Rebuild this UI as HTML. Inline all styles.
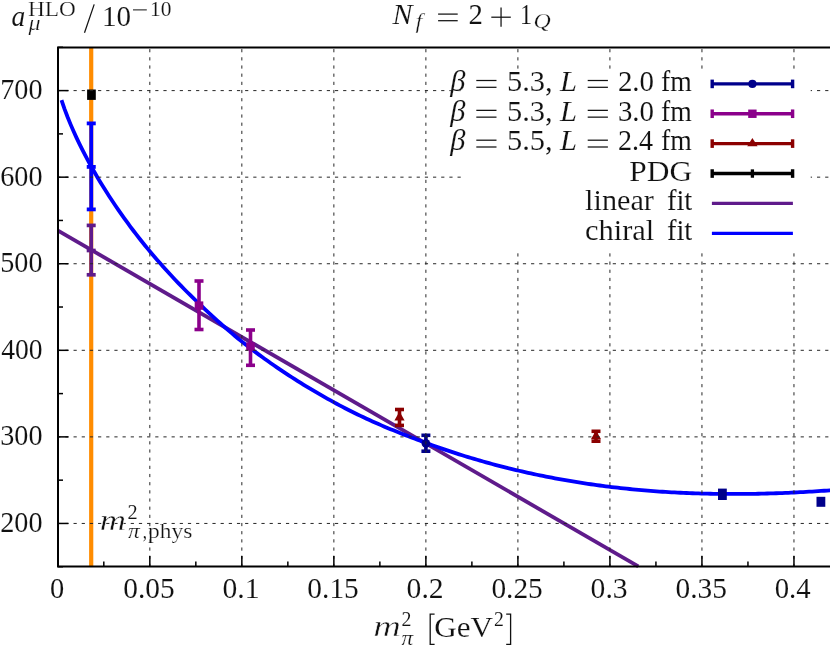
<!DOCTYPE html>
<html><head><meta charset="utf-8"><title>plot</title>
<style>
html,body{margin:0;padding:0;background:#fff;}
body{width:830px;height:645px;position:relative;overflow:hidden;font-family:"Liberation Serif",serif;}
svg{position:absolute;left:0;top:0;display:block;will-change:transform;}
</style></head><body>
<svg width="830" height="645" viewBox="0 0 830 645" style="position:absolute;left:0;top:0">
<path d="M91.2,47.40 V566.40" stroke="#ff8c00" stroke-width="4.2" fill="none"/>
<path d="M58.00,230.65 L638.3,566.40" stroke="#5f1b8b" stroke-width="3.8" fill="none"/>
<path d="M61.50,100.06 L64.49,108.86 L67.48,116.78 L70.47,124.12 L73.46,131.03 L76.45,137.59 L79.44,143.87 L82.43,149.89 L85.42,155.70 L88.41,161.32 L91.40,166.77 L94.39,172.05 L97.38,177.20 L100.37,182.20 L103.36,187.09 L106.36,191.86 L109.35,196.51 L112.34,201.07 L115.33,205.53 L118.32,209.90 L121.31,214.18 L124.30,218.38 L127.29,222.49 L130.28,226.54 L133.27,230.51 L136.26,234.40 L139.25,238.24 L142.24,242.00 L145.23,245.71 L148.22,249.35 L151.21,252.94 L154.20,256.47 L157.19,259.94 L160.18,263.36 L163.17,266.73 L166.16,270.05 L169.15,273.32 L172.14,276.54 L175.13,279.72 L178.12,282.85 L181.11,285.94 L184.10,288.98 L187.09,291.98 L190.08,294.95 L193.08,297.87 L196.07,300.75 L199.06,303.61 L202.05,306.45 L205.04,309.26 L208.03,312.05 L211.02,314.83 L214.01,317.57 L217.00,320.29 L219.99,322.98 L222.98,325.64 L225.97,328.27 L228.96,330.87 L231.95,333.42 L234.94,335.94 L237.93,338.42 L240.92,340.85 L243.91,343.24 L246.90,345.59 L249.89,347.89 L252.88,350.15 L255.87,352.39 L258.86,354.60 L261.85,356.79 L264.84,358.94 L267.83,361.07 L270.82,363.18 L273.81,365.26 L276.81,367.32 L279.80,369.35 L282.79,371.36 L285.78,373.34 L288.77,375.31 L291.76,377.24 L294.75,379.16 L297.74,381.05 L300.73,382.92 L303.72,384.77 L306.71,386.59 L309.70,388.40 L312.69,390.18 L315.68,391.95 L318.67,393.69 L321.66,395.41 L324.65,397.11 L327.64,398.79 L330.63,400.45 L333.62,402.09 L336.61,403.71 L339.60,405.31 L342.59,406.90 L345.58,408.46 L348.57,410.00 L351.56,411.52 L354.55,413.00 L357.54,414.47 L360.53,415.91 L363.53,417.33 L366.52,418.72 L369.51,420.09 L372.50,421.44 L375.49,422.77 L378.48,424.08 L381.47,425.37 L384.46,426.64 L387.45,427.90 L390.44,429.14 L393.43,430.36 L396.42,431.57 L399.41,432.76 L402.40,433.94 L405.39,435.11 L408.38,436.27 L411.37,437.42 L414.36,438.55 L417.35,439.68 L420.34,440.80 L423.33,441.91 L426.32,443.01 L429.31,444.11 L432.30,445.19 L435.29,446.27 L438.28,447.32 L441.27,448.36 L444.26,449.39 L447.25,450.41 L450.25,451.41 L453.24,452.39 L456.23,453.37 L459.22,454.32 L462.21,455.27 L465.20,456.20 L468.19,457.12 L471.18,458.02 L474.17,458.92 L477.16,459.79 L480.15,460.66 L483.14,461.51 L486.13,462.35 L489.12,463.18 L492.11,463.99 L495.10,464.80 L498.09,465.59 L501.08,466.36 L504.07,467.13 L507.06,467.88 L510.05,468.62 L513.04,469.35 L516.03,470.06 L519.02,470.77 L522.01,471.46 L525.00,472.14 L527.99,472.81 L530.98,473.47 L533.97,474.11 L536.97,474.74 L539.96,475.37 L542.95,475.98 L545.94,476.58 L548.93,477.16 L551.92,477.74 L554.91,478.31 L557.90,478.86 L560.89,479.41 L563.88,479.94 L566.87,480.46 L569.86,480.97 L572.85,481.47 L575.84,481.96 L578.83,482.44 L581.82,482.91 L584.81,483.37 L587.80,483.81 L590.79,484.25 L593.78,484.68 L596.77,485.09 L599.76,485.50 L602.75,485.89 L605.74,486.28 L608.73,486.65 L611.72,487.02 L614.71,487.38 L617.70,487.72 L620.69,488.06 L623.69,488.38 L626.68,488.70 L629.67,489.00 L632.66,489.30 L635.65,489.59 L638.64,489.86 L641.63,490.13 L644.62,490.39 L647.61,490.64 L650.60,490.88 L653.59,491.11 L656.58,491.33 L659.57,491.54 L662.56,491.74 L665.55,491.93 L668.54,492.12 L671.53,492.29 L674.52,492.45 L677.51,492.61 L680.50,492.76 L683.49,492.90 L686.48,493.02 L689.47,493.15 L692.46,493.26 L695.45,493.36 L698.44,493.45 L701.43,493.54 L704.42,493.62 L707.42,493.69 L710.41,493.75 L713.40,493.80 L716.39,493.85 L719.38,493.89 L722.37,493.92 L725.36,493.94 L728.35,493.96 L731.34,493.97 L734.33,493.97 L737.32,493.97 L740.31,493.95 L743.30,493.93 L746.29,493.91 L749.28,493.87 L752.27,493.83 L755.26,493.78 L758.25,493.73 L761.24,493.66 L764.23,493.59 L767.22,493.52 L770.21,493.43 L773.20,493.34 L776.19,493.24 L779.18,493.14 L782.17,493.03 L785.16,492.91 L788.15,492.78 L791.14,492.65 L794.14,492.51 L797.13,492.37 L800.12,492.21 L803.11,492.05 L806.10,491.89 L809.09,491.72 L812.08,491.54 L815.07,491.35 L818.06,491.16 L821.05,490.96 L824.04,490.76 L827.03,490.54 L830.02,490.33 L833.01,490.10 L836.00,489.87" stroke="#0000ff" stroke-width="3.8" fill="none" stroke-linejoin="round"/>
<g stroke="#0000ff" stroke-width="3.8" fill="none"><path d="M91.25,123.4 V209.4"/><path d="M86.75,123.4 H95.75"/><path d="M86.75,209.4 H95.75"/><path d="M86.75,166.9 H95.75"/></g>
<g stroke="#5f1b8b" stroke-width="3.7" fill="none"><path d="M91.2,225.4 V274.8"/><path d="M86.7,225.4 H95.7"/><path d="M86.7,274.8 H95.7"/><path d="M86.7,250.5 H95.7"/></g>
<rect x="87.1" y="89.5" width="8.7" height="10.4" fill="#000"/>
<g stroke="#8b008b" stroke-width="3.6" fill="none"><path d="M199,281.0 V329.5"/><path d="M194.5,281.0 H203.5"/><path d="M194.5,329.5 H203.5"/></g>
<rect x="194.7" y="301.40000000000003" width="8.6" height="8.4" fill="#8b008b"/>
<g stroke="#8b008b" stroke-width="3.6" fill="none"><path d="M250.5,330.0 V365.3"/><path d="M246.0,330.0 H255.0"/><path d="M246.0,365.3 H255.0"/></g>
<rect x="246.2" y="342.3" width="8.6" height="8.4" fill="#8b008b"/>
<g stroke="#8b0000" stroke-width="3.6" fill="none"><path d="M399.5,409.5 V425.4"/><path d="M395.0,409.5 H404.0"/><path d="M395.0,425.4 H404.0"/></g>
<path d="M399.5,411.6 L404.6,420.4 H394.4 Z" fill="#8b0000"/>
<g stroke="#8b0000" stroke-width="3.6" fill="none"><path d="M596,431.3 V441.2"/><path d="M591.5,431.3 H600.5"/><path d="M591.5,441.2 H600.5"/></g>
<path d="M596,430.6 L601.1,439.2 H590.9 Z" fill="#8b0000"/>
<g stroke="#00008b" stroke-width="3.6" fill="none"><path d="M425.9,435.3 V451.2"/><path d="M421.4,435.3 H430.4"/><path d="M421.4,451.2 H430.4"/></g>
<circle cx="425.9" cy="443.4" r="4.3" fill="#00008b"/>
<rect x="718.0" y="488.6" width="8.8" height="11.4" fill="#00008b"/>
<rect x="816.5" y="496.8" width="8.8" height="10" fill="#00008b"/>
<g stroke="#262626" stroke-width="1.0" stroke-dasharray="3.2 4.97" fill="none">
<path d="M57.20,523.45 H836"/>
<path d="M57.20,436.88 H836"/>
<path d="M57.20,350.31 H836"/>
<path d="M57.20,263.74 H836"/>
<path d="M57.20,177.17 H836"/>
<path d="M57.20,90.60 H836"/>
<path d="M149.82,567.00 V47.40"/>
<path d="M241.84,567.00 V47.40"/>
<path d="M333.86,567.00 V47.40"/>
<path d="M425.88,567.00 V47.40"/>
<path d="M517.90,567.00 V47.40"/>
<path d="M609.92,567.00 V47.40"/>
<path d="M701.94,567.00 V47.40"/>
<path d="M793.96,567.00 V47.40"/>
</g>
<rect x="461.5" y="69" width="349.2" height="184" fill="#fff"/>
<g stroke="#00008b" stroke-width="3.4" fill="none"><path d="M711.9,83.9 H792.9"/><path d="M712.1999999999999,79.60000000000001 V88.2"/><path d="M792.6,79.60000000000001 V88.2"/></g>
<circle cx="752.4" cy="83.9" r="4.1" fill="#00008b"/>
<g stroke="#8b008b" stroke-width="3.4" fill="none"><path d="M711.9,113.75 H792.9"/><path d="M712.1999999999999,109.45 V118.05"/><path d="M792.6,109.45 V118.05"/></g>
<rect x="748.1999999999999" y="109.55" width="8.4" height="8.4" fill="#8b008b"/>
<g stroke="#8b0000" stroke-width="3.4" fill="none"><path d="M711.9,143.6 H792.9"/><path d="M712.1999999999999,139.29999999999998 V147.9"/><path d="M792.6,139.29999999999998 V147.9"/></g>
<path d="M752.4,138.0 L757.6,146.2 H747.1999999999999 Z" fill="#8b0000"/>
<g stroke="#000" stroke-width="3.4" fill="none"><path d="M711.9,173.55 H792.9"/><path d="M712.1999999999999,169.25 V177.85000000000002"/><path d="M792.6,169.25 V177.85000000000002"/></g>
<path d="M752.4,169.35000000000002 V177.75" stroke="#000" stroke-width="3.3"/>
<path d="M711.9,203.4 H792.9" stroke="#5f1b8b" stroke-width="3.4"/>
<path d="M711.9,233.4 H792.9" stroke="#0000ff" stroke-width="3.4"/>
<path d="M836,47.40 H58.00 V566.40 H836" stroke="#000" stroke-width="2" fill="none" stroke-linejoin="miter"/>
<g stroke="#000" stroke-width="1.5" fill="none">
<path d="M58.00,523.45 h10.4"/>
<path d="M58.00,436.88 h10.4"/>
<path d="M58.00,350.31 h10.4"/>
<path d="M58.00,263.74 h10.4"/>
<path d="M58.00,177.17 h10.4"/>
<path d="M58.00,90.60 h10.4"/>
<path d="M58.00,566.74 h5"/>
<path d="M58.00,480.16 h5"/>
<path d="M58.00,393.60 h5"/>
<path d="M58.00,307.02 h5"/>
<path d="M58.00,220.45 h5"/>
<path d="M58.00,133.88 h5"/>
<path d="M58.00,47.31 h5"/>
<path d="M57.80,566.40 v-10.4"/>
<path d="M103.81,566.40 v-4.8"/>
<path d="M149.82,566.40 v-10.4"/>
<path d="M195.83,566.40 v-4.8"/>
<path d="M241.84,566.40 v-10.4"/>
<path d="M287.85,566.40 v-4.8"/>
<path d="M333.86,566.40 v-10.4"/>
<path d="M379.87,566.40 v-4.8"/>
<path d="M425.88,566.40 v-10.4"/>
<path d="M471.89,566.40 v-4.8"/>
<path d="M517.90,566.40 v-10.4"/>
<path d="M563.91,566.40 v-4.8"/>
<path d="M609.92,566.40 v-10.4"/>
<path d="M655.93,566.40 v-4.8"/>
<path d="M701.94,566.40 v-10.4"/>
<path d="M747.95,566.40 v-4.8"/>
<path d="M793.96,566.40 v-10.4"/>
</g>
<g stroke="#111" fill="none"><path d="M94.2,4.4 L84.5,32.7" stroke-width="1.25"/><path d="M133,9.9 H146.8" stroke-width="1.0"/><path d="M438.1,14.1 H457.7" stroke-width="1.25"/><path d="M438.1,20.7 H457.7" stroke-width="1.25"/><path d="M491.3,17.2 H510.8" stroke-width="1.25"/><path d="M501.05,7.6 V26.8" stroke-width="1.25"/><path d="M476.3,80.5 H496.5" stroke-width="1.25"/><path d="M476.3,87.3 H496.5" stroke-width="1.25"/><path d="M587.7,80.5 H607.9" stroke-width="1.25"/><path d="M587.7,87.3 H607.9" stroke-width="1.25"/><path d="M476.3,110.35 H496.5" stroke-width="1.25"/><path d="M476.3,117.14999999999999 H496.5" stroke-width="1.25"/><path d="M587.7,110.35 H607.9" stroke-width="1.25"/><path d="M587.7,117.14999999999999 H607.9" stroke-width="1.25"/><path d="M476.3,140.20000000000002 H496.5" stroke-width="1.25"/><path d="M476.3,147.0 H496.5" stroke-width="1.25"/><path d="M587.7,140.20000000000002 H607.9" stroke-width="1.25"/><path d="M587.7,147.0 H607.9" stroke-width="1.25"/><path d="M434.6,614.2 H430.2 V644.4 H434.6" stroke-width="1.3"/><path d="M506.2,614.2 H510.6 V644.4 H506.2" stroke-width="1.3"/></g><g font-family="Liberation Serif, serif" fill="#111">
<text transform="translate(0.25,531.85) scale(0.953,1)" font-size="29.6" stroke="#fff" stroke-width="0.08">200</text>
<text transform="translate(0.25,445.28) scale(0.953,1)" font-size="29.6" stroke="#fff" stroke-width="0.08">300</text>
<text transform="translate(1.20,358.71) scale(0.931,1)" font-size="29.6" stroke="#fff" stroke-width="0.08">400</text>
<text transform="translate(0.25,272.14) scale(0.953,1)" font-size="29.6" stroke="#fff" stroke-width="0.08">500</text>
<text transform="translate(0.25,185.57) scale(0.953,1)" font-size="29.6" stroke="#fff" stroke-width="0.08">600</text>
<text transform="translate(0.25,99.00) scale(0.953,1)" font-size="29.6" stroke="#fff" stroke-width="0.08">700</text>
<text transform="translate(49.89,597.70) scale(0.962,1)" font-size="29.6" stroke="#fff" stroke-width="0.08">0</text>
<text transform="translate(123.33,597.70) scale(0.992,1)" font-size="29.6" stroke="#fff" stroke-width="0.08">0.05</text>
<text transform="translate(222.54,597.70) scale(1.000,1)" font-size="29.6" stroke="#fff" stroke-width="0.08">0.1</text>
<text transform="translate(307.37,597.70) scale(0.992,1)" font-size="29.6" stroke="#fff" stroke-width="0.08">0.15</text>
<text transform="translate(406.58,597.70) scale(1.000,1)" font-size="29.6" stroke="#fff" stroke-width="0.08">0.2</text>
<text transform="translate(491.41,597.70) scale(0.992,1)" font-size="29.6" stroke="#fff" stroke-width="0.08">0.25</text>
<text transform="translate(590.62,597.70) scale(1.000,1)" font-size="29.6" stroke="#fff" stroke-width="0.08">0.3</text>
<text transform="translate(675.45,597.70) scale(0.992,1)" font-size="29.6" stroke="#fff" stroke-width="0.08">0.35</text>
<text transform="translate(774.69,597.70) scale(0.973,1)" font-size="29.6" stroke="#fff" stroke-width="0.08">0.4</text>
<text transform="translate(11.60,26.00) scale(0.950,1)" font-size="29" font-style="italic" stroke="#fff" stroke-width="0.08">a</text>
<text transform="translate(27.90,15.50) scale(1.137,1)" font-size="20.5" stroke="#fff" stroke-width="0.23">HLO</text>
<text transform="translate(28.45,30.40) scale(1.145,1)" font-size="21.0" font-style="italic" stroke="#fff" stroke-width="0.24">μ</text>
<text transform="translate(102.00,26.20) scale(1.000,1)" font-size="29" stroke="#fff" stroke-width="0.08">10</text>
<text transform="translate(149.96,15.60) scale(1.044,1)" font-size="20.5" stroke="#fff" stroke-width="0.13">10</text>
<text transform="translate(392.54,23.90) scale(1.036,1)" font-size="29" font-style="italic" stroke="#fff" stroke-width="0.12">N</text>
<text transform="translate(415.40,28.30) scale(1.200,1)" font-size="20.5" font-style="italic" stroke="#fff" stroke-width="0.30">f</text>
<text transform="translate(468.61,23.90) scale(0.992,1)" font-size="29" stroke="#fff" stroke-width="0.08">2</text>
<text transform="translate(519.95,23.90) scale(0.827,1)" font-size="29" stroke="#fff" stroke-width="0.08">1</text>
<text transform="translate(533.44,28.30) scale(1.164,1)" font-size="20.5" font-style="italic" stroke="#fff" stroke-width="0.26">Q</text>
<text transform="translate(450.35,90.70) scale(1.050,1)" font-size="29" font-style="italic" stroke="#fff" stroke-width="0.14">β</text>
<text transform="translate(506.95,90.70) scale(1.050,1)" font-size="29" stroke="#fff" stroke-width="0.13">5.3,</text>
<text transform="translate(559.96,90.70) scale(1.056,1)" font-size="29" font-style="italic" stroke="#fff" stroke-width="0.14">L</text>
<text transform="translate(617.90,90.70) scale(0.996,1)" font-size="29" stroke="#fff" stroke-width="0.08">2.0</text>
<text transform="translate(661.10,90.70) scale(0.955,1)" font-size="29" stroke="#fff" stroke-width="0.08">fm</text>
<text transform="translate(450.35,120.55) scale(1.050,1)" font-size="29" font-style="italic" stroke="#fff" stroke-width="0.14">β</text>
<text transform="translate(506.95,120.55) scale(1.050,1)" font-size="29" stroke="#fff" stroke-width="0.13">5.3,</text>
<text transform="translate(559.96,120.55) scale(1.056,1)" font-size="29" font-style="italic" stroke="#fff" stroke-width="0.14">L</text>
<text transform="translate(617.90,120.55) scale(0.996,1)" font-size="29" stroke="#fff" stroke-width="0.08">3.0</text>
<text transform="translate(661.10,120.55) scale(0.955,1)" font-size="29" stroke="#fff" stroke-width="0.08">fm</text>
<text transform="translate(450.35,150.40) scale(1.050,1)" font-size="29" font-style="italic" stroke="#fff" stroke-width="0.14">β</text>
<text transform="translate(506.95,150.40) scale(1.050,1)" font-size="29" stroke="#fff" stroke-width="0.13">5.5,</text>
<text transform="translate(559.96,150.40) scale(1.056,1)" font-size="29" font-style="italic" stroke="#fff" stroke-width="0.14">L</text>
<text transform="translate(617.93,150.40) scale(0.968,1)" font-size="29" stroke="#fff" stroke-width="0.08">2.4</text>
<text transform="translate(661.10,150.40) scale(0.955,1)" font-size="29" stroke="#fff" stroke-width="0.08">fm</text>
<text transform="translate(629.30,180.50) scale(1.083,1)" font-size="29" stroke="#fff" stroke-width="0.17">PDG</text>
<text transform="translate(585.10,210.30) scale(1.043,1)" font-size="29" stroke="#fff" stroke-width="0.13">linear</text>
<text transform="translate(666.90,210.30) scale(0.984,1)" font-size="29" stroke="#fff" stroke-width="0.08">fit</text>
<text transform="translate(584.95,240.20) scale(1.051,1)" font-size="29" stroke="#fff" stroke-width="0.14">chiral</text>
<text transform="translate(666.90,240.20) scale(0.984,1)" font-size="29" stroke="#fff" stroke-width="0.08">fit</text>
<text transform="translate(99.75,529.60) scale(1.253,1)" font-size="29" font-style="italic" stroke="#fff" stroke-width="0.36">m</text>
<text transform="translate(127.50,519.20) scale(0.990,1)" font-size="20.5" stroke="#fff" stroke-width="0.08">2</text>
<text transform="translate(128.10,537.80) scale(1.145,1)" font-size="20.5" font-style="italic" stroke="#fff" stroke-width="0.24">π</text>
<text transform="translate(142.70,537.80) scale(0.825,1)" font-size="20.5" stroke="#fff" stroke-width="0.08">,</text>
<text transform="translate(148.00,537.80) scale(1.146,1)" font-size="20.5" stroke="#fff" stroke-width="0.24">phys</text>
<text transform="translate(373.28,636.40) scale(1.321,1)" font-size="29" font-style="italic" stroke="#fff" stroke-width="0.43">m</text>
<text transform="translate(401.60,626.00) scale(0.970,1)" font-size="20.5" stroke="#fff" stroke-width="0.08">2</text>
<text transform="translate(401.60,644.80) scale(1.136,1)" font-size="20.5" font-style="italic" stroke="#fff" stroke-width="0.23">π</text>
<text transform="translate(434.23,636.60) scale(1.074,1)" font-size="29" stroke="#fff" stroke-width="0.16">GeV</text>
<text transform="translate(494.10,626.00) scale(0.960,1)" font-size="20.5" stroke="#fff" stroke-width="0.08">2</text>
</g>
</svg>
</body></html>
